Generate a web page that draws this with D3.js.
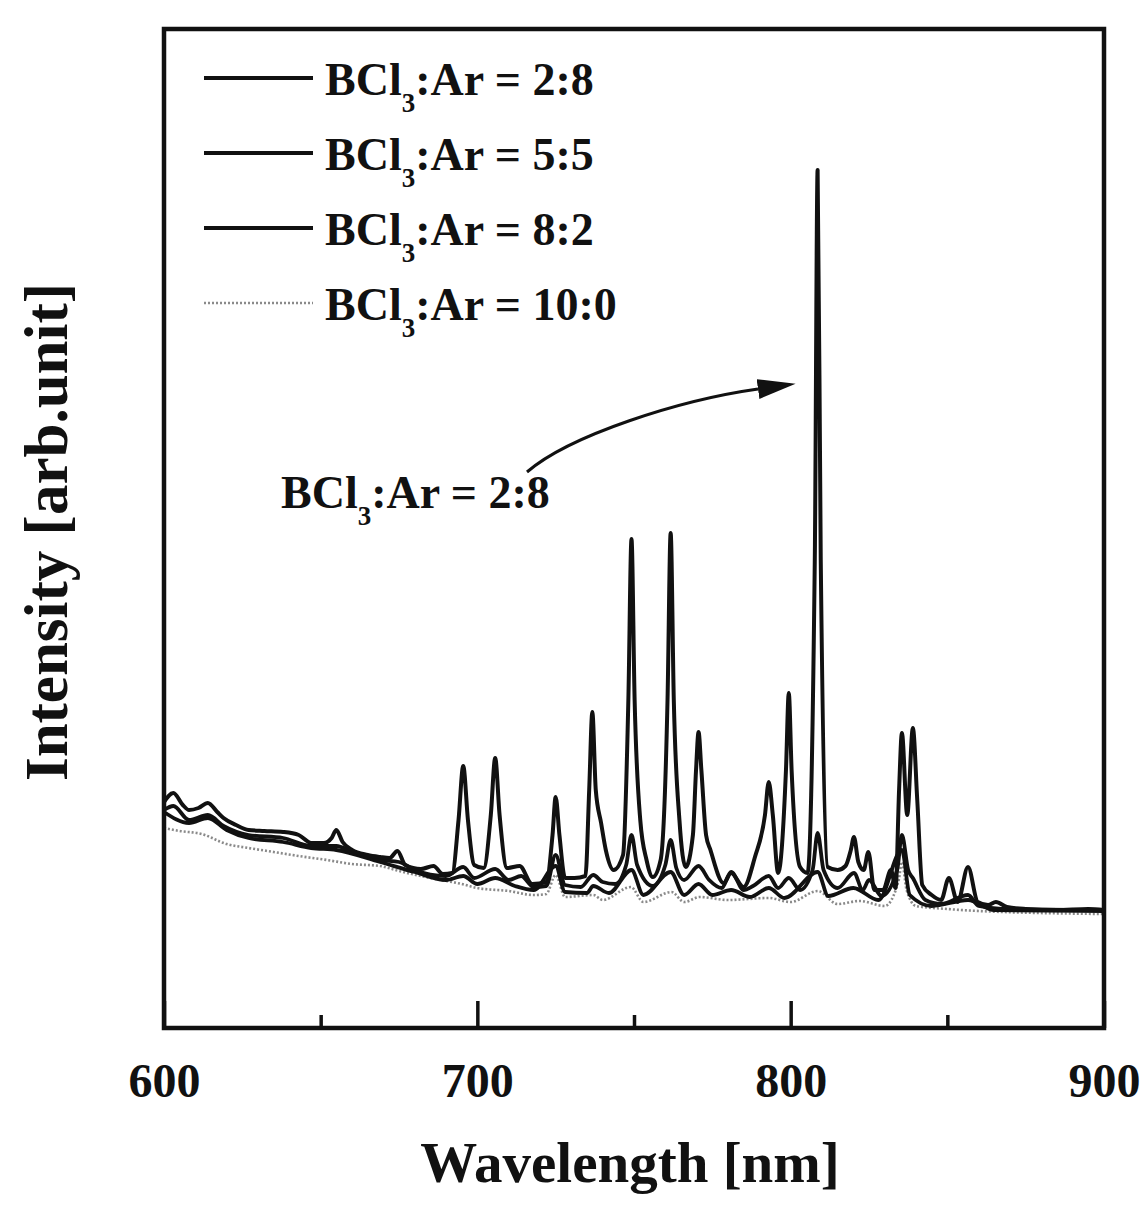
<!DOCTYPE html>
<html>
<head>
<meta charset="utf-8">
<script src="https://cdn.jsdelivr.net/npm/d3@7"></script>
<style>
  body { margin: 0; background: #fff; }
  text { font-family: "Liberation Serif", "Times New Roman", serif; font-weight: bold; fill: #111; }
</style>
</head>
<body>
<script>
// emission spectra, intensity in arbitrary units
var wl28 = [600,603,606,608,611,614,617,619,623,627,632,638,643,647,651,653.5,655,657,660,665,669,672,674.5,677,682,686,689,692,
  694,695.5,697,699,702,704.3,705.7,707.1,709.5,713.5,717.5,722,724,725,726.2,728,731,734.5,735.7,736.7,737.8,739.5,741,743.5,
  746.5,748.2,749.2,750.2,752,754,756,758.5,760.7,761.7,762.7,764.5,766.5,768.8,769.8,770.6,771.5,773,774.4,778.6,781,785,788.6,
  791.8,793,794.3,796,798.5,799.4,800.3,803,805.4,807.7,808.6,809.6,811.8,815,817.5,819.2,820.2,821.6,823.3,824.8,826.7,829.5,
  832,833.5,834.6,835.5,837.2,839,840.4,842,845,848,850.5,853.3,856.6,859.7,863,865.5,869,875,885,895,900];
var int28 = [22.6,23.5,22.3,21.8,22.0,22.5,21.6,21.0,20.3,19.8,19.7,19.6,19.3,18.5,18.5,19.0,19.8,18.6,17.8,17.3,17.1,17.0,17.7,16.3,15.9,16.2,15.4,15.5,
  20.8,26.2,20.8,16.3,16.0,21.3,27.0,21.3,16.0,16.2,14.4,14.6,19.3,23.1,19.3,15.0,15.0,15.2,23.8,31.6,23.8,20.5,17.8,15.8,
  17.3,32.8,48.9,32.8,20.8,16.8,15.1,16.8,32.8,49.5,32.8,20.8,16.1,19.3,25.8,29.6,25.8,19.3,17.8,14.5,15.5,14.1,17.1,
  21.3,24.6,21.3,15.5,25.8,33.5,25.8,16.1,15.5,46.8,85.8,46.8,16.1,15.8,16.2,17.8,19.1,16.6,15.8,17.6,13.8,13.8,
  15.8,14.0,23.8,29.5,21.3,30.0,22.8,14.3,13.3,12.8,15.0,12.6,16.1,12.6,12.3,12.6,12.1,11.9,11.8,11.9,11.8];

var wl55 = [600,603,608,614,619,627,638,647,655,660,669,675,680,690,695.5,699,705.7,710,714,718,722,725,728,733,737,740,744,
  747.5,749.2,751,756,760,761.7,763.5,766,770.6,774,778,781,785,788,793,796,799.4,803,807,808.6,810.5,815,820.2,823,825,829,
  834,835.5,837.5,839,843,848,856.6,860,870,900];
var int55 = [21.8,22.2,20.8,21.3,20.2,19.3,19.0,18.2,18.2,17.6,16.8,16.6,15.8,15.2,16.1,15.0,15.9,14.8,15.2,14.1,14.2,17.3,14.3,14.1,15.3,14.6,14.4,
  16.3,19.3,16.3,14.2,16.3,18.8,16.0,14.8,16.2,14.8,14.0,15.6,13.8,14.2,15.2,14.0,15.0,13.8,15.8,19.5,15.8,14.0,15.5,13.8,14.8,13.2,
  15.8,19.3,15.8,15.0,12.8,12.4,13.3,12.2,11.9,11.8];

var wl82 = [600,608,614,620,627,638,647,655,669,680,690,695.5,700,705.7,712,718,725,728,735,737,742,749.2,753,761.7,766,
  770.6,775,781,787,793,798,808.6,812,820,828,835.5,838,845,856.6,865,900];
var int82 = [21.6,20.5,21.0,19.8,19.0,18.6,18.0,17.8,16.6,15.6,14.8,15.2,14.4,15.0,14.2,13.8,16.2,13.6,13.5,14.2,13.5,15.8,13.3,15.6,13.3,
  14.4,13.3,13.8,13.1,14.0,13.0,15.6,13.2,14.0,12.8,17.8,13.3,12.2,12.8,11.8,11.7];

var wl100 = [600,605,612,620,627,635,643,652,660,669,675,685,695,700,710,718,722,725,728,737,740,749,753,762,766,771,780,
  793,800,808.6,815,822,830,834.5,835.5,837,840,850,860,900];
var int100 = [20.0,19.7,19.4,18.4,18.0,17.6,17.2,16.8,16.4,16.2,15.7,15.0,14.4,14.0,13.7,13.3,13.4,15.3,13.1,13.3,12.8,14.1,12.6,13.6,12.6,13.1,12.8,
  13.0,12.6,13.7,12.4,12.7,12.2,14.8,16.6,13.8,12.2,11.9,11.7,11.4];

var ratios = ["2:8", "5:5", "8:2", "10:0"];
var majorTicks = [600, 700, 800, 900];
var minorTicks = [650, 750, 850];

var width = 1144,
    height = 1211;

var svg = d3.select("body")
    .append("svg")
    .attr("width", width)
    .attr("height", height);

var x = d3.scaleLinear().domain([600, 900]).range([164, 1104]);
var y = d3.scaleLinear().domain([0, 100]).range([1028, 28]);

var line = d3.line()
    .x(function(d){ return x(d[0]); })
    .y(function(d){ return y(d[1]); })
    .curve(d3.curveMonotoneX);

//series drawn back to front
var series = [
    {wl: wl100, val: int100, color: "#8a8a8a", w: 2.6, dash: "2,2"},
    {wl: wl82, val: int82, color: "#111", w: 3.8, dash: null},
    {wl: wl55, val: int55, color: "#111", w: 3.8, dash: null},
    {wl: wl28, val: int28, color: "#111", w: 4, dash: null}
];

series.forEach(function(s){
    svg.append("path")
        .datum(d3.zip(s.wl, s.val))
        .attr("fill", "none")
        .attr("stroke", s.color)
        .attr("stroke-width", s.w)
        .attr("stroke-linejoin", "round")
        .attr("stroke-dasharray", s.dash)
        .attr("d", line);
});

//frame
svg.append("rect")
    .attr("x", 164)
    .attr("y", 29)
    .attr("width", 940)
    .attr("height", 999)
    .attr("fill", "none")
    .attr("stroke", "#111")
    .attr("stroke-width", 4.5);

//ticks, pointing inward
var major = svg.append("g")
    .attr("transform", "translate(0,1028)")
    .call(d3.axisBottom(x).tickValues(majorTicks).tickSizeInner(-27).tickSizeOuter(0).tickPadding(35));
var minor = svg.append("g")
    .attr("transform", "translate(0,1028)")
    .call(d3.axisBottom(x).tickValues(minorTicks).tickSizeInner(-13).tickSizeOuter(0).tickFormat(""));

[major, minor].forEach(function(g){
    g.select(".domain").remove();
    g.selectAll(".tick line").attr("stroke", "#111").attr("stroke-width", 3.5);
});
major.selectAll(".tick text")
    .attr("font-size", 48)
    .attr("font-family", "Liberation Serif, serif")
    .attr("font-weight", "bold")
    .attr("fill", "#111");

//axis titles
svg.append("text")
    .attr("x", 630)
    .attr("y", 1182)
    .attr("text-anchor", "middle")
    .attr("font-size", 57)
    .text("Wavelength [nm]");

svg.append("text")
    .attr("transform", "translate(67,532) rotate(-90)")
    .attr("text-anchor", "middle")
    .attr("font-size", 61)
    .text("Intensity [arb.unit]");

//label with subscript 3
function ratioLabel(g, xPos, yPos, r){
    var t = g.append("text")
        .attr("x", xPos)
        .attr("y", yPos)
        .attr("font-size", 46);
    t.append("tspan").text("BCl");
    t.append("tspan").attr("font-size", 27).attr("dy", 17).text("3");
    t.append("tspan").attr("dy", -17).text(":Ar = " + r);
}

//legend
var legend = svg.append("g");
ratios.forEach(function(r, i){
    var ly = 78 + i * 75;
    var s = series[3 - i];
    legend.append("line")
        .attr("x1", 204).attr("x2", 313)
        .attr("y1", ly).attr("y2", ly)
        .attr("stroke", s.color)
        .attr("stroke-width", s.w)
        .attr("stroke-dasharray", s.dash);
    ratioLabel(legend, 325, ly + 17, r);
});

//annotation arrow
ratioLabel(svg, 281, 508, "2:8");

svg.append("defs").append("marker")
    .attr("id", "head")
    .attr("markerUnits", "userSpaceOnUse")
    .attr("markerWidth", 40)
    .attr("markerHeight", 22)
    .attr("refX", 0)
    .attr("refY", 10)
    .attr("orient", "auto")
    .append("path")
    .attr("d", "M0,0 L38,10 L0,20 Z")
    .attr("fill", "#111");

svg.append("path")
    .attr("d", "M527,472 C570,435 680,400 758,389")
    .attr("fill", "none")
    .attr("stroke", "#111")
    .attr("stroke-width", 3)
    .attr("marker-end", "url(#head)");
</script>
</body>
</html>
